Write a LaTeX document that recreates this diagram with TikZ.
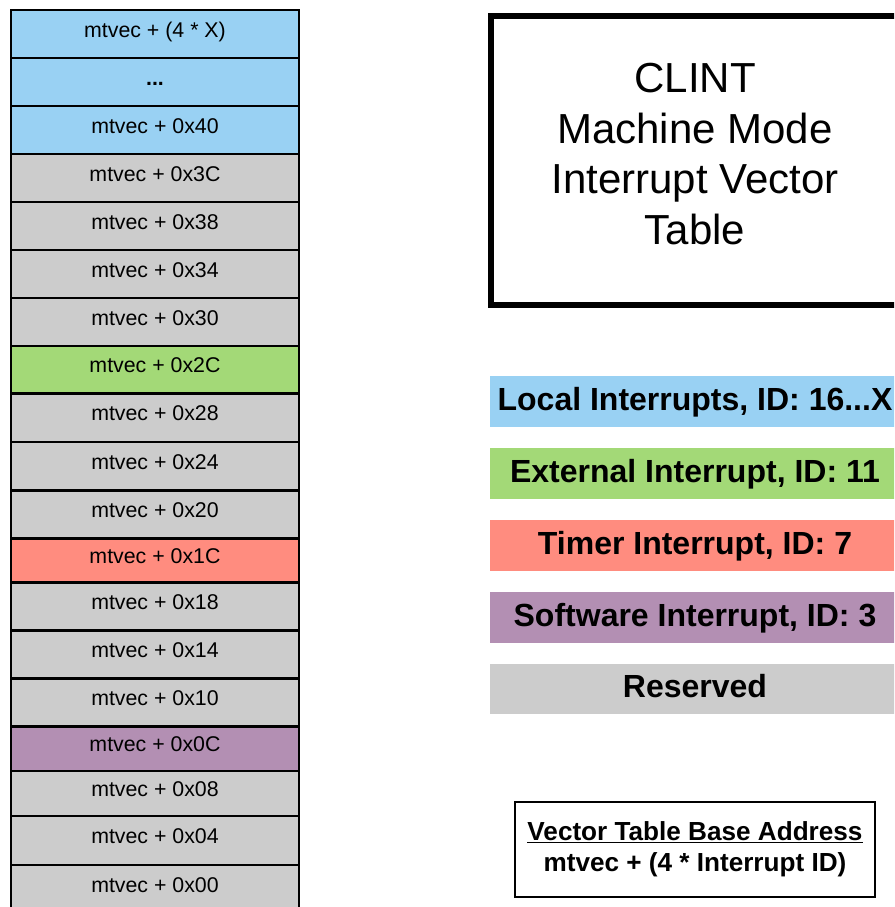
\documentclass[tikz,border=0pt]{standalone}
\usepackage{fontspec}
\setmainfont{Liberation Sans}
\definecolor{cblue}{HTML}{99D1F3}
\definecolor{cgreen}{HTML}{A3D977}
\definecolor{cred}{HTML}{FF8C7F}
\definecolor{cpurple}{HTML}{B38FB3}
\definecolor{cgray}{HTML}{CCCCCC}
\begin{document}
\begin{tikzpicture}[x=0.75pt,y=-0.75pt,
  cell/.style={draw=black, line width=1.7pt, minimum width={288*0.75pt}, inner sep=0pt,
    text height=4.5pt, text depth=0pt, font=\fontsize{16}{19}\selectfont},
  legendbar/.style={minimum width={410*0.75pt}, minimum height={50.5*0.75pt}, inner sep=0pt,
    text height=12.75pt, text depth=0pt, font=\fontsize{24}{29}\selectfont\bfseries},
  cellh/.style={minimum height={#1*0.75pt}}
]
\useasboundingbox (0,0) rectangle (894,907);
\clip (0,0) rectangle (894,907);
\fill[white] (0,0) rectangle (894,907);

% vector table column
\node (r1)  [cell, fill=cblue,   cellh=48]   at (155,34)     {mtvec + (4 * X)};
\node (r2)  [cell, fill=cblue,   cellh=48]   at (155,82)     {\bfseries ...};
\node (r3)  [cell, fill=cblue,   cellh=48]   at (155,130)    {mtvec + 0x40};
\node (r4)  [cell, fill=cgray,   cellh=48]   at (155,178)    {mtvec + 0x3C};
\node (r5)  [cell, fill=cgray,   cellh=48]   at (155,226)    {mtvec + 0x38};
\node (r6)  [cell, fill=cgray,   cellh=48]   at (155,274)    {mtvec + 0x34};
\node (r7)  [cell, fill=cgray,   cellh=48]   at (155,322)    {mtvec + 0x30};
\node (r8)  [cell, fill=cgreen,  cellh=47.5] at (155,369.75) {mtvec + 0x2C};
\node (r9)  [cell, fill=cgray,   cellh=48.5] at (155,417.75) {mtvec + 0x28};
\node (r10) [cell, fill=cgray,   cellh=48.5] at (155,466.25) {mtvec + 0x24};
\node (r11) [cell, fill=cgray,   cellh=48]   at (155,514.5)  {mtvec + 0x20};
\node (r12) [cell, fill=cred,    cellh=44]   at (155,560.5)  {mtvec + 0x1C};
\node (r13) [cell, fill=cgray,   cellh=48]   at (155,606.5)  {mtvec + 0x18};
\node (r14) [cell, fill=cgray,   cellh=48]   at (155,654.5)  {mtvec + 0x14};
\node (r15) [cell, fill=cgray,   cellh=48]   at (155,702.5)  {mtvec + 0x10};
\node (r16) [cell, fill=cpurple, cellh=44.5] at (155,748.75) {mtvec + 0x0C};
\node (r17) [cell, fill=cgray,   cellh=45]   at (155,793.5)  {mtvec + 0x08};
\node (r18) [cell, fill=cgray,   cellh=49]   at (155,840.5)  {mtvec + 0x04};
\node (r19) [cell, fill=cgray,   cellh=48]   at (155,889)    {mtvec + 0x00};

% title box
\node (clint) [draw=black, line width=4.5pt, minimum width={409*0.75pt}, minimum height={289*0.75pt}] at (695,160.5) {};
\node (title) [font=\fontsize{31.5}{37.9}\selectfont, align=center, inner sep=0pt] at (695,154) {CLINT\\Machine Mode\\Interrupt Vector\\Table};

% legend
\node (lloc) [legendbar, fill=cblue]   at (695,401.5) {Local Interrupts, ID: 16...X};
\node (lext) [legendbar, fill=cgreen]  at (695,473.5) {External Interrupt, ID: 11};
\node (ltim) [legendbar, fill=cred]    at (695,545.5) {Timer Interrupt, ID: 7};
\node (lsw)  [legendbar, fill=cpurple] at (695,617.5) {Software Interrupt, ID: 3};
\node (lres) [legendbar, fill=cgray]   at (695,689)   {Reserved};

% base address box
\node (base) [draw=black, line width=1.5pt, minimum width={360*0.75pt}, minimum height={95*0.75pt},
  align=center, inner sep=0pt, font=\fontsize{19.6}{23.8}\selectfont\bfseries] at (695,849.2)
  {\underline{Vector Table Base Address}\\mtvec + (4 * Interrupt ID)};
\end{tikzpicture}
\end{document}
